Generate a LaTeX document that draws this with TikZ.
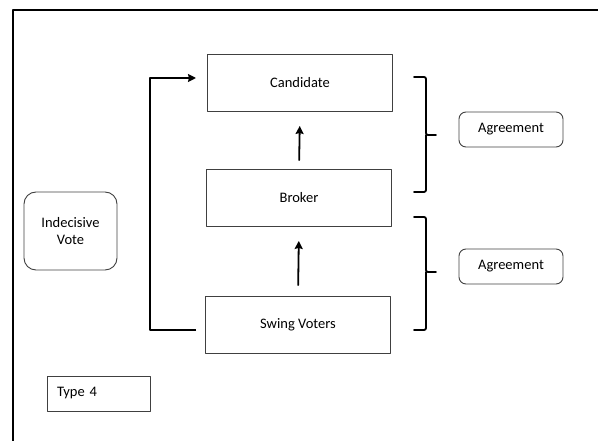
\documentclass[tikz,border=0pt]{standalone}
\usepackage{fontspec}
\setmainfont{Carlito}
\usetikzlibrary{arrows.meta}
\begin{document}
\begin{tikzpicture}[x=1pt,y=-1pt,>={Stealth[length=8pt,width=8pt,inset=1pt]}, font=\fontsize{14.5}{17}\selectfont, line join=round, line cap=round]
			\tikzset{box/.style={draw=black!75, line width=0.9pt, minimum width=185pt, minimum height=57pt, inner sep=0pt},
				roundbox/.style={draw=black!75, line width=0.9pt, rounded corners=7pt, inner sep=0pt},
				conn/.style={line width=1.8pt, ->},
				brace/.style={line width=1.8pt, rounded corners=2pt}}
			\useasboundingbox (0,0) rectangle (598,441);
			\draw[line width=2.8pt, line cap=butt] (13,441)--(13,10)--(598,10); % khung
			\node[box] (cand) at (300,83) {Candidate};
			\node[box] (broker) at (299,198) {Broker};
			\node[box] (swing) at (298,325) {Swing Voters};
			\node[roundbox, rounded corners=12pt, minimum width=93pt, minimum height=78pt, align=center] (vote) at (70.5,231) {Indecisive\\Vote};
			\node[draw=black!75, line width=0.9pt, text width=83pt, inner xsep=10pt, minimum height=35pt, align=left, inner ysep=0pt] (type) at (98.5,393.5) {Type 4};
			\node[roundbox, minimum width=104pt, minimum height=35pt] (agr1) at (511,129.5) {Agreement};
			\node[roundbox, minimum width=104pt, minimum height=35pt] (agr2) at (511,266.5) {Agreement};
			\draw[conn, shorten <=9pt, shorten >=14pt] (broker.north)--(cand.south);
			\draw[conn, shorten <=11pt, shorten >=14pt] (swing.north)--(broker.south);
			\coordinate (lstart) at (196,330);
			\coordinate (lend) at (196,78);
			\draw[conn, line cap=butt] (lstart)--(150,330)--(150,78)--(lend);
			% ngoac
			\draw[brace] (414,77)--(426,77)--(426,135)--(436,135);
			\draw[brace] (426,135)--(426,192)--(414,192);
			\draw[brace] (414,217)--(426,217)--(426,272)--(436,272);
			\draw[brace] (426,272)--(426,330)--(414,330);
		\end{tikzpicture}
\end{document}
